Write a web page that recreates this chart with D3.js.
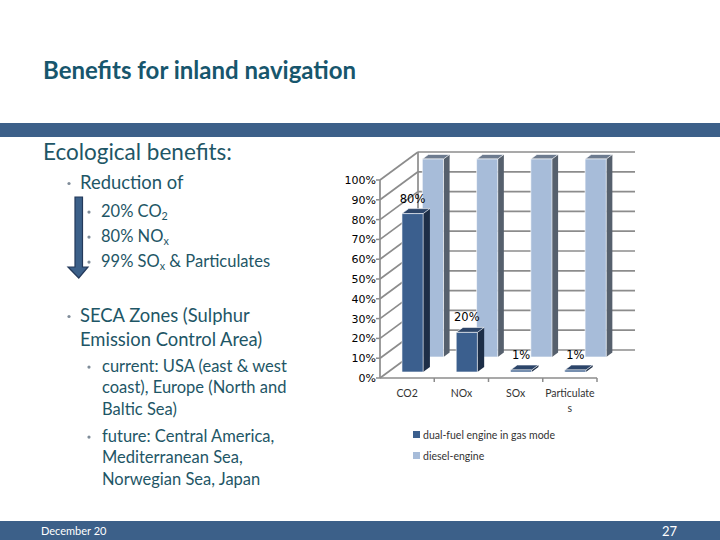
<!DOCTYPE html>
<html>
<head>
<meta charset="utf-8">
<script src="https://cdn.jsdelivr.net/npm/d3@7"></script>
<style>
  body { margin: 0; background: #fff; }
  svg { display: block; }
  .body-text { font-family: Lato, "Open Sans", sans-serif; fill: #1e5666; }
</style>
</head>
<body>
<div id="slide"></div>
<script>
// chart data
const categories = ["CO2", "NOx", "SOx", "Particulates"];
const catLabels = [["CO2"], ["NOx"], ["SOx"], ["Particulate", "s"]];
const dualFuel = [80, 20, 1, 1];
const diesel = [100, 100, 100, 100];
const seriesNames = ["dual-fuel engine in gas mode", "diesel-engine"];
const yTicks = [0, 10, 20, 30, 40, 50, 60, 70, 80, 90, 100];

const W = 720, H = 540;
const BAND = "#3c6089";

const svg = d3.select("#slide").append("svg")
    .attr("width", W)
    .attr("height", H);

// slide decorations
svg.append("text")
    .attr("x", 43).attr("y", 79)
    .attr("font-family", "Lato, sans-serif")
    .attr("font-weight", "bold")
    .attr("font-size", 24)
    .attr("fill", "#17566d")
    .text("Benefits for inland navigation");

svg.append("rect")
    .attr("x", 0).attr("y", 123)
    .attr("width", W).attr("height", 14)
    .attr("fill", BAND);

svg.append("rect")
    .attr("x", 0).attr("y", 521)
    .attr("width", W).attr("height", H - 521)
    .attr("fill", BAND);

svg.append("text")
    .attr("x", 41).attr("y", 535)
    .attr("font-family", "Lato, sans-serif")
    .attr("font-size", 11)
    .attr("fill", "#fff")
    .text("December 20");

svg.append("text")
    .attr("x", 662).attr("y", 536)
    .attr("font-family", "Lato, sans-serif")
    .attr("font-size", 13)
    .attr("fill", "#fff")
    .text("27");

// bullets text
const L1 = 18.4, L2 = 16.5;
const lines = [
    { x: 43, y: 160, size: 22.5, text: "Ecological benefits:" },
    { x: 80, y: 189, size: L1, text: "Reduction of", bullet: 69 },
    { x: 101, y: 217, size: L2, text: "20% CO", sub: "2", bullet: 89 },
    { x: 101, y: 242, size: L2, text: "80% NO", sub: "x", bullet: 89 },
    { x: 101, y: 267, size: L2, text: "99% SO", sub: "x", after: " & Particulates", bullet: 89 },
    { x: 80, y: 322, size: L1, text: "SECA Zones (Sulphur", bullet: 69 },
    { x: 80, y: 346, size: L1, text: "Emission Control Area)" },
    { x: 102, y: 372, size: L2, text: "current: USA (east & west", bullet: 89 },
    { x: 102, y: 393, size: L2, text: "coast), Europe (North and" },
    { x: 102, y: 415, size: L2, text: "Baltic Sea)" },
    { x: 102, y: 442, size: L2, text: "future: Central America,", bullet: 89 },
    { x: 102, y: 463, size: L2, text: "Mediterranean Sea," },
    { x: 102, y: 485, size: L2, text: "Norwegian Sea, Japan" }
];

lines.forEach(l => {
    if (l.bullet) {
        svg.append("circle")
            .attr("cx", l.bullet).attr("cy", l.y - l.size * 0.3)
            .attr("r", 1.6)
            .attr("fill", "#7f8c99");
    }
    const t = svg.append("text")
        .attr("class", "body-text")
        .attr("x", l.x).attr("y", l.y)
        .attr("font-size", l.size);
    t.append("tspan").text(l.text);
    if (l.sub) {
        t.append("tspan").attr("font-size", l.size * 0.65).attr("dy", 3).text(l.sub);
        if (l.after) t.append("tspan").attr("dy", -3).text(l.after);
    }
});

// down arrow
svg.append("path")
    .attr("d", "M75,197 L82.5,197 L82.5,267 L88,267 L78.75,278 L68,267 L75,267 Z")
    .attr("fill", BAND)
    .attr("stroke", "#23395a")
    .attr("stroke-width", 1.2);

// chart (3D columns)
const x0 = 380, x1 = 597;
const x = d3.scaleBand().domain(categories).range([x0, x1]);
const y = d3.scaleLinear().domain([0, 100]).range([378, 180]);
const kx = 38 / 28;
const wallZ = 28;
const P = (px, py, z) => [px + z * kx, py - z];
const pts = arr => arr.map(p => p.join(",")).join(" ");

const chart = svg.append("g");
const gridCol = "#8c8c8c";

// back wall and side wall grid
yTicks.forEach(v => {
    const a = P(x0, y(v), wallZ), b = P(x1, y(v), wallZ);
    chart.append("line")
        .attr("x1", a[0]).attr("y1", a[1]).attr("x2", b[0]).attr("y2", b[1])
        .attr("stroke", gridCol).attr("stroke-width", 1.7);
    const c = P(x0, y(v), 0);
    chart.append("line")
        .attr("x1", c[0]).attr("y1", c[1]).attr("x2", a[0]).attr("y2", a[1])
        .attr("stroke", gridCol).attr("stroke-width", 1.7);
});
{
    const a = P(x0, y(0), wallZ), b = P(x0, y(100), wallZ);
    chart.append("line")
        .attr("x1", a[0]).attr("y1", a[1]).attr("x2", b[0]).attr("y2", b[1])
        .attr("stroke", gridCol).attr("stroke-width", 1.7);
}

function box(cat, val, z0, z1, cols) {
    const bw = x.bandwidth();
    const xl = x(cat) + bw * 0.255;
    const xr = xl + bw * 0.39;
    const yb = y(0), yt = y(val);
    const g = chart.append("g");
    g.append("polygon")
        .attr("points", pts([P(xr, yt, z0), P(xr, yt, z1), P(xr, yb, z1), P(xr, yb, z0)]))
        .attr("fill", cols.side);
    g.append("polygon")
        .attr("points", pts([P(xl, yt, z0), P(xr, yt, z0), P(xr, yt, z1), P(xl, yt, z1)]))
        .attr("fill", cols.top)
        .attr("stroke", "rgba(255,255,255,0.75)").attr("stroke-width", 0.8);
    g.append("polygon")
        .attr("points", pts([P(xl, yt, z0), P(xr, yt, z0), P(xr, yb, z0), P(xl, yb, z0)]))
        .attr("fill", cols.front)
        .attr("stroke", "rgba(255,255,255,0.75)").attr("stroke-width", 0.8);
    return { cx: (P(xl, yt, z0)[0] + P(xr, yt, z0)[0]) / 2, top: P(xl, yt, z1)[1] };
}

const lightCols = { front: "#a7bcd9", side: "#56606d", top: "#6d7b8f" };
const darkCols = { front: "#3b5f8e", side: "#1d2e47", top: "#2c4569" };

categories.forEach((c, i) => box(c, diesel[i], 21, 25.5, lightCols));
categories.forEach((c, i) => {
    const b = box(c, dualFuel[i], 6, 11, darkCols);
    chart.append("text")
        .attr("x", b.cx).attr("y", b.top - 6)
        .attr("text-anchor", "middle")
        .attr("font-family", "DejaVu Sans, sans-serif")
        .attr("font-size", 11.5)
        .attr("fill", "#000")
        .text(dualFuel[i] + "%");
});

// front axes
chart.append("line")
    .attr("x1", x0).attr("y1", y(0)).attr("x2", x0).attr("y2", y(100))
    .attr("stroke", gridCol).attr("stroke-width", 1.7);
chart.append("line")
    .attr("x1", x0).attr("y1", y(0)).attr("x2", x1).attr("y2", y(0))
    .attr("stroke", gridCol).attr("stroke-width", 1.7);

yTicks.forEach(v => {
    chart.append("line")
        .attr("x1", x0 - 4).attr("y1", y(v)).attr("x2", x0).attr("y2", y(v))
        .attr("stroke", gridCol).attr("stroke-width", 1.5);
    chart.append("text")
        .attr("x", x0 - 4).attr("y", y(v) + 4)
        .attr("text-anchor", "end")
        .attr("font-family", "DejaVu Sans, sans-serif")
        .attr("font-size", 11)
        .attr("fill", "#000")
        .text(v + "%");
});

categories.forEach((c, i) => {
    const xe = x(c) + x.bandwidth();
    chart.append("line")
        .attr("x1", xe).attr("y1", y(0)).attr("x2", xe).attr("y2", y(0) + 4)
        .attr("stroke", gridCol).attr("stroke-width", 1.5);
    catLabels[i].forEach((t, j) => {
        chart.append("text")
            .attr("x", x(c) + x.bandwidth() / 2).attr("y", 397 + j * 15)
            .attr("text-anchor", "middle")
            .attr("font-family", "Lato, sans-serif")
            .attr("font-size", 10.5)
            .attr("fill", "#333")
            .text(t);
    });
});

// legend
seriesNames.forEach((s, i) => {
    chart.append("rect")
        .attr("x", 413).attr("y", 431 + i * 21)
        .attr("width", 7).attr("height", 7)
        .attr("fill", i === 0 ? darkCols.front : lightCols.front);
    chart.append("text")
        .attr("x", 423).attr("y", 439 + i * 21)
        .attr("font-family", "Lato, sans-serif")
        .attr("font-size", 10.5)
        .attr("fill", "#333")
        .text(s);
});
</script>
</body>
</html>
